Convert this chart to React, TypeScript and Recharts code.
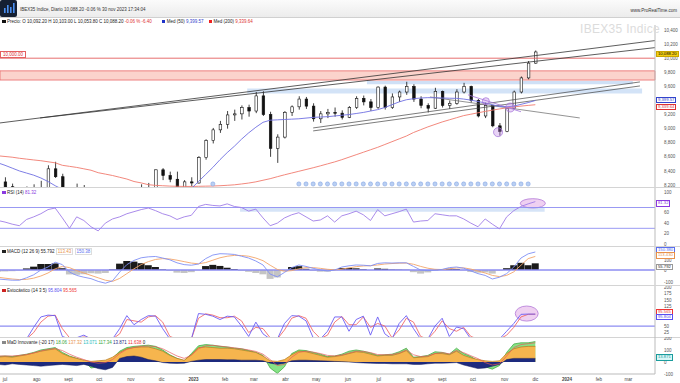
import React from 'react';
import {
  ComposedChart, Line, Bar, Area, Scatter, XAxis, YAxis, ReferenceLine, ReferenceArea, ReferenceDot, Cell,
} from 'recharts';

// weekly bars, week 0 = 24 jun 2022 ... week 75 = 1 dic 2023
const opens = [
  8050, 8244, 8176, 8108, 7996, 8088, 8156, 8142, 8430, 8318,
  8060, 7918, 8084, 7899, 7508, 7367, 7416, 7319, 7460, 7790,
  7956, 8149, 8160, 8416, 8335, 8282, 8122, 8245, 8229, 8589,
  8832, 8983, 9062, 9195, 9210, 9300, 9250, 9465, 9200, 8720,
  8880, 9232, 9310, 9420, 9320, 9140, 9210, 9230, 9220, 9160,
  9300, 9430, 9380, 9300, 9590, 9300, 9450, 9520, 9600, 9420,
  9330, 9290, 9530, 9330, 9360, 9520, 9600, 9400, 9180, 9330,
  9040, 8960, 9290, 9520, 9720, 9930,
];
const highs = [
  8290, 8310, 8220, 8160, 8180, 8210, 8260, 8480, 8530, 8360,
  8100, 8220, 8200, 7950, 7590, 7600, 7500, 7520, 7840, 8010,
  8210, 8230, 8420, 8440, 8390, 8390, 8270, 8310, 8610, 8850,
  9010, 9110, 9250, 9270, 9330, 9340, 9520, 9530, 9240, 8920,
  9250, 9330, 9460, 9450, 9360, 9250, 9280, 9300, 9260, 9320,
  9460, 9470, 9420, 9600, 9610, 9500, 9540, 9665, 9630, 9460,
  9360, 9580, 9540, 9400, 9560, 9650, 9610, 9420, 9370, 9340,
  9080, 9300, 9540, 9740, 9960, 10110,
];
const lows = [
  7990, 8060, 7920, 7860, 7950, 7990, 8040, 8130, 8300, 8040,
  7860, 7900, 7880, 7490, 7300, 7340, 7260, 7290, 7440, 7740,
  7900, 8070, 8150, 8270, 8240, 8090, 8100, 8180, 8220, 8560,
  8790, 8940, 9000, 9110, 9130, 9170, 9220, 9180, 8600, 8514,
  8860, 9180, 9270, 9280, 9100, 9080, 9150, 9170, 9130, 9150,
  9280, 9330, 9250, 9280, 9270, 9280, 9380, 9480, 9380, 9290,
  9230, 9280, 9300, 9280, 9340, 9500, 9370, 9160, 9150, 9020,
  8900, 8950, 9280, 9500, 9700, 9920,
];
const closes = [
  8244, 8176, 8108, 7996, 8088, 8156, 8142, 8430, 8318, 8060,
  7918, 8084, 7899, 7508, 7367, 7416, 7319, 7460, 7790, 7956,
  8149, 8160, 8416, 8335, 8282, 8122, 8245, 8229, 8589, 8832,
  8983, 9062, 9195, 9210, 9300, 9250, 9465, 9200, 8720, 8880,
  9232, 9310, 9420, 9320, 9140, 9210, 9230, 9220, 9160, 9300,
  9430, 9380, 9300, 9590, 9300, 9450, 9520, 9600, 9420, 9330,
  9290, 9530, 9330, 9360, 9520, 9600, 9400, 9180, 9330, 9040,
  8960, 9290, 9520, 9720, 9930, 10088.2,
];
const sma50 = [
  8515, 8480, 8440, 8400, 8370, 8340, 8300, 8250, 8190, 8140,
  8120, 8100, 8080, 8050, 8000, 7940, 7860, 7780, 7700, 7660,
  7650, 7680, 7740, 7810, 7900, 7980, 8060, 8150, 8250, 8350,
  8450, 8560, 8660, 8750, 8850, 8940, 9020, 9090, 9120, 9125,
  9130, 9135, 9140, 9150, 9160, 9165, 9170, 9180, 9190, 9200,
  9215, 9230, 9250, 9270, 9300, 9340, 9380, 9410, 9425, 9435,
  9440, 9438, 9435, 9432, 9430, 9420, 9405, 9385, 9365, 9340,
  9315, 9310, 9320, 9345, 9370, 9399.57,
];
const sma200 = [
  8615, 8605, 8595, 8580, 8568, 8556, 8545, 8530, 8515, 8480,
  8465, 8450, 8430, 8410, 8375, 8355, 8335, 8310, 8285, 8250,
  8230, 8205, 8195, 8190, 8185, 8182, 8180, 8180, 8182, 8184,
  8186, 8190, 8196, 8203, 8215, 8228, 8245, 8268, 8290, 8318,
  8345, 8370, 8395, 8420, 8445, 8472, 8500, 8528, 8560, 8595,
  8630, 8665, 8700, 8735, 8775, 8815, 8855, 8895, 8945, 8985,
  9025, 9060, 9095, 9125, 9155, 9185, 9205, 9225, 9245, 9262,
  9280, 9295, 9308, 9320, 9330, 9339.64,
];
const rsi = [
  45, 42, 38, 35, 47, 52, 58, 66, 69, 50,
  30, 52, 45, 33, 25, 40, 48, 52, 58, 62,
  66, 69, 64, 58, 54, 47, 52, 55, 72, 76,
  74, 73, 77, 72, 70, 63, 67, 50, 35, 40,
  50, 56, 60, 52, 44, 46, 54, 42, 54, 58,
  63, 56, 45, 66, 54, 58, 62, 67, 42, 44,
  45, 58, 56, 54, 54, 48, 40, 33, 48, 38,
  29, 52, 64, 72, 77, 81.32,
];
const macd = [
  -75, -80, -85, -85, -65, -40, 0, 25, 65, 45,
  -17, -45, -60, -72, -95, -110, -90, -17, 45, 80,
  102, 110, 113, 100, 85, 60, 45, 40, 50, 95,
  125, 136, 134, 130, 115, 100, 75, 42, -34, -57,
  -20, 20, 42, 30, 14, 0, -8, 0, 25, 35,
  42, 40, 35, 55, 60, 58, 60, 60, 30, 0,
  -5, 0, 5, 20, 25, 15, -8, -30, -45, -75,
  -60, -30, 25, 100, 135, 150.38,
];
const signal = [
  -60, -68, -75, -80, -78, -68, -50, -25, 10, 30,
  20, -5, -25, -45, -65, -85, -95, -70, -30, 10,
  45, 70, 88, 95, 92, 82, 70, 58, 52, 62,
  82, 102, 115, 122, 121, 115, 100, 78, 40, 5,
  -10, -5, 10, 20, 20, 14, 6, 2, 8, 18,
  28, 34, 36, 42, 50, 54, 57, 58, 48, 30,
  15, 6, 4, 10, 17, 18, 8, -8, -25, -45,
  -55, -45, -15, 40, 95, 113.43,
];
const hist = [
  -15, -12, -10, -5, 13, 28, 50, 50, 55, 15,
  -37, -40, -35, -27, -30, -25, 5, 53, 75, 70,
  57, 40, 25, 5, -7, -22, -25, -18, -2, 33,
  43, 34, 19, 8, -6, -15, -25, -36, -74, -62,
  -10, 25, 32, 10, -6, -14, -14, -2, 17, 17,
  14, 6, -1, 13, 10, 4, 3, 2, -18, -30,
  -20, -6, 1, 10, 8, -3, -16, -22, -20, -30,
  -5, 15, 40, 60, 40, 55.79,
];
const stochK = [
  0, 0, 0, 0, 0, 45, 85, 92, 90, 10,
  0, 5, 15, 0, 0, 0, 0, 40, 90, 55,
  75, 90, 88, 40, 0, 0, 0, 0, 98, 95,
  88, 75, 88, 85, 50, 10, 65, 20, 0, 0,
  60, 90, 88, 70, 5, 0, 30, 85, 85, 30,
  75, 88, 15, 85, 20, 0, 60, 90, 40, 0,
  0, 50, 80, 10, 46, 40, 0, 0, 0, 0,
  0, 30, 60, 95, 96, 95.8,
];
const stochD = [
  0, 0, 0, 0, 0, 25, 65, 88, 92, 40,
  5, 2, 8, 5, 0, 0, 0, 20, 75, 70,
  65, 85, 90, 65, 10, 0, 0, 0, 80, 97,
  92, 82, 82, 88, 70, 25, 45, 40, 5, 0,
  35, 80, 90, 80, 30, 2, 15, 65, 87, 55,
  55, 85, 45, 60, 50, 5, 35, 80, 65, 10,
  0, 30, 70, 40, 30, 45, 10, 0, 0, 0,
  0, 15, 45, 85, 95, 95.57,
];
const momGreen = [
  45, 50, 45, 55, 65, 80, 100, 110, 120, 80,
  50, 30, 10, -50, -40, -30, 30, 90, 120, 130,
  135, 140, 130, 100, 60, 30, 10, 70, 135, 145,
  140, 130, 125, 115, 110, 95, 80, 55, -50, -95,
  -40, 70, 100, 95, 80, 65, 45, 50, 65, 90,
  100, 90, 75, 55, 60, 65, 85, 115, 40, 45,
  55, 85, 80, 65, 115, 70, 45, 10, -40, -60,
  -30, 80, 150, 160, 160, 170,
];
const momOrange = [
  40, 45, 40, 50, 60, 75, 90, 100, 110, 70,
  45, 30, 15, 5, 10, 15, 40, 80, 110, 120,
  125, 125, 110, 90, 55, 30, 15, 60, 120, 125,
  120, 115, 115, 110, 100, 90, 80, 50, 10, 5,
  20, 60, 90, 85, 70, 55, 40, 45, 55, 70,
  85, 80, 65, 50, 55, 55, 70, 95, 35, 40,
  45, 70, 70, 60, 90, 55, 35, 20, 10, 5,
  10, 70, 110, 125, 130, 130,
];
const momNavy = [
  -20, -25, -15, -20, -25, -30, -35, -30, -25, -20,
  -25, -30, -20, -35, -55, -65, -45, 30, 45, 50,
  40, 20, 10, -5, -10, -12, -10, 5, 15, 20,
  20, 20, 18, 18, 15, 15, 15, 10, -10, -20,
  -10, 10, 15, 15, 12, 10, 8, 5, 3, 0,
  -5, -8, -10, -12, -12, -15, -15, -15, -20, -20,
  -15, -10, -10, -8, -5, -25, -40, -55, -50, -35,
  -20, 20, 30, 30, 30, 30,
];
const momRed = [
  50, 50, 50, 55, 62, 75, 92, 105, 112, 95,
  65, 40, 20, 0, -10, -5, 20, 70, 105, 122,
  130, 133, 128, 110, 80, 50, 30, 55, 110, 135,
  138, 132, 125, 118, 110, 100, 88, 65, 20, -30,
  -20, 40, 80, 90, 82, 70, 55, 50, 58, 75,
  90, 88, 78, 62, 60, 62, 75, 100, 60, 45,
  50, 70, 78, 68, 95, 78, 52, 28, -5, -25,
  -15, 50, 120, 145, 152, 160,
];
const markerWeeks = [30, 42, 43, 44, 45, 46, 47, 48, 49, 50, 51, 52, 53, 54, 55, 56, 57, 58,
  59, 60, 61, 62, 63, 64, 65, 66, 67, 68, 69, 70, 71, 72, 73, 74];

const monthTicks = [1, 5.43, 9.86, 14.14, 18.57, 22.86, 27.29, 31.71, 35.71, 40.14, 44.43,
  48.86, 53.14, 57.57, 62, 66.29, 70.71, 75, 79.43, 83.86, 88];
const monthLabels = ['jul', 'ago', 'sept', 'oct', 'nov', 'dic', '2023', 'feb', 'mar', 'abr', 'may',
  'jun', 'jul', 'ago', 'sept', 'oct', 'nov', 'dic', '2024', 'feb', 'mar'];

const priceTicks = [8200, 8400, 8600, 8800, 9000, 9200, 9600, 9800, 10000, 10200, 10400];

const FONT = '"Liberation Sans", Arial, sans-serif';
const X_DOMAIN: [number, number] = [0.3, 91.7];
const M = { top: 0, right: 0, bottom: 0, left: 0 };

const data = closes.map((c, i) => ({
  i, o: opens[i], h: highs[i], l: lows[i], c,
  sma50: sma50[i], sma200: sma200[i], rsi: rsi[i],
  macd: macd[i], signal: signal[i], hist: hist[i],
  k: stochK[i], d: stochD[i],
  g: momGreen[i], or: momOrange[i], nv: momNavy[i], rd: momRed[i],
}));
const markers = markerWeeks.map((i) => ({ i, mk: 8215 }));

const fmt = (v: number) => v.toLocaleString('en-US');

const axisTick = (f?: (v: number) => string, shift?: Record<number, number>) => (p: any) => (
  <text x={p.x + 1} y={p.y} dy={1.6 + ((shift && shift[p.payload.value]) || 0)} fontSize={4.5} fill="#555" fontFamily={FONT}>
    {f ? f(p.payload.value) : p.payload.value}
  </text>
);

const Candle = (p: any) => {
  const { x, y, width, height, payload } = p;
  if (x == null || !payload || isNaN(y)) return null;
  const top = Math.min(y, y + height);
  const bot = Math.max(y, y + height);
  const span = payload.h - payload.l || 1;
  const py = (v: number) => top + ((payload.h - v) / span) * (bot - top);
  const cx = x + width / 2;
  const up = payload.c >= payload.o;
  const bt = py(Math.max(payload.o, payload.c));
  const bb = py(Math.min(payload.o, payload.c));
  return (
    <g>
      <line x1={cx} x2={cx} y1={top} y2={bot} stroke="#111" strokeWidth={0.8} />
      <rect x={cx - 1.3} y={bt} width={2.6} height={Math.max(bb - bt, 0.8)}
        fill={up ? '#fff' : '#111'} stroke="#111" strokeWidth={0.6} />
    </g>
  );
};

const ellipse = (p: any) => (
  <ellipse cx={p.x + p.width / 2} cy={p.y + p.height / 2} rx={Math.abs(p.width) / 2} ry={Math.abs(p.height) / 2}
    fill="rgba(220,150,225,0.45)" stroke="#b27ad8" strokeWidth={0.8} />
);

const Box = ({ top, text, color, bg, border }: any) => (
  <div style={{
    position: 'absolute', left: 656, top, height: 4.5, lineHeight: '4.5px', padding: '0 1px',
    fontSize: 4.2, color, background: bg || '#fff', border: `0.5px solid ${border || color}`, fontFamily: FONT,
  }}>{text}</div>
);

const Label = ({ top, children }: any) => (
  <div style={{ position: 'absolute', left: 2, top, fontSize: 4.5, lineHeight: '5px', color: '#222', fontFamily: FONT, whiteSpace: 'nowrap' }}>
    {children}
  </div>
);

const Sq = ({ c }: { c: string }) => (
  <span style={{ display: 'inline-block', width: 3.5, height: 3.5, background: c, marginRight: 1.5 }} />
);

const Sep = ({ top }: { top: number }) => (
  <div style={{ position: 'absolute', left: 0, top, width: 680, height: 1, background: '#d4d4d4' }} />
);

export default function App() {
  return (
    <div style={{ position: 'relative', width: 680, height: 383, background: '#fff', overflow: 'hidden', fontFamily: FONT }}>
      <style>{'body{margin:0}'}</style>

      {/* header */}
      <div style={{ position: 'absolute', left: 0, top: 0, width: 680, height: 17, background: 'linear-gradient(#fbfbfb,#ececec)', borderBottom: '1px solid #d0d0d0' }}>
        <svg width={17} height={17} style={{ position: 'absolute', left: 0, top: 0 }}>
          <rect width={17} height={17} rx={2} fill="#152033" />
          <rect x={4} y={8} width={1.6} height={5} fill="#4a8ff0" />
          <rect x={7} y={5} width={1.6} height={8} fill="#4a8ff0" />
          <rect x={10} y={7} width={1.6} height={6} fill="#4a8ff0" />
          <rect x={13} y={3} width={1.6} height={10} fill="#4a8ff0" />
        </svg>
        <div style={{ position: 'absolute', left: 20, top: 7, fontSize: 4.5, color: '#333' }}>
          IBEX35 Indice, Diario 10,088.20 -0.06 % 30 nov 2023 17:34:04
        </div>
        <div style={{ position: 'absolute', right: 3, top: 8, fontSize: 4.5, color: '#333' }}>www.ProRealTime.com</div>
      </div>

      <Label top={19}>
        <Sq c="#111" />Precio: O 10,092.20 H 10,103.00 L 10,053.80 C 10,088.20{' '}
        <span style={{ color: '#d33' }}>-0.06 % -6.40</span>
        <span style={{ marginLeft: 10 }}><Sq c="#1f33c8" />Med (50) <span style={{ color: '#3344cc' }}>9,399.57</span></span>
        <span style={{ marginLeft: 5 }}><Sq c="#e22" />Med (200) <span style={{ color: '#d33' }}>9,339.64</span></span>
      </Label>

      {/* price panel */}
      <div style={{ position: 'absolute', left: 0, top: 25 }}>
        <ComposedChart width={680} height={162} data={data} margin={M}>
          <XAxis type="number" dataKey="i" domain={X_DOMAIN} allowDataOverflow hide />
          <YAxis orientation="right" width={25} domain={[8172, 10471]} allowDataOverflow ticks={priceTicks} interval={0}
            tick={axisTick(fmt)} tickLine={false} axisLine={{ stroke: '#bbb' }} />
          <ReferenceArea y1={9690} y2={9820} fill="#fbd3cc" fillOpacity={1} stroke="#e86a6a" strokeWidth={0.8} />
          <ReferenceArea x1={51.5} x2={88.6} y1={9630} y2={9677} fill="#cfe0f6" fillOpacity={1} />
          <ReferenceArea x1={34.8} x2={89.9} y1={9500} y2={9570} fill="#d3e3f7" fillOpacity={1} />
          <ReferenceLine y={10000} stroke="#e46060" strokeWidth={0.9} />
          <ReferenceLine segment={[{ x: 0.3, y: 9081 }, { x: 91.7, y: 10250 }]} stroke="#333" strokeWidth={0.8} ifOverflow="hidden" />
          <ReferenceLine segment={[{ x: 5.9, y: 9152 }, { x: 91.7, y: 10150 }]} stroke="#333" strokeWidth={0.8} ifOverflow="hidden" />
          <ReferenceLine segment={[{ x: 44, y: 9010 }, { x: 89.6, y: 9663 }]} stroke="#444" strokeWidth={0.7} ifOverflow="hidden" />
          <ReferenceLine segment={[{ x: 44, y: 8968 }, { x: 89.6, y: 9606 }]} stroke="#444" strokeWidth={0.7} ifOverflow="hidden" />
          <ReferenceLine segment={[{ x: 60.3, y: 9450 }, { x: 81.2, y: 9152 }]} stroke="#666" strokeWidth={0.7} ifOverflow="hidden" />
          <ReferenceLine segment={[{ x: 65.6, y: 9480 }, { x: 73, y: 9240 }]} stroke="#a070d8" strokeWidth={0.8} ifOverflow="hidden" />
          <Line dataKey="sma200" stroke="#f07a6e" strokeWidth={0.9} dot={false} isAnimationActive={false} />
          <Line dataKey="sma50" stroke="#6f6fe2" strokeWidth={0.9} dot={false} isAnimationActive={false} />
          <Bar dataKey={(d: any) => [d.l, d.h]} barSize={4} shape={Candle} isAnimationActive={false} />
          <Scatter data={markers} dataKey="mk" fill="#b9cff2" stroke="#7d9fe2" strokeWidth={0.5}
            shape={(p: any) => <circle cx={p.cx} cy={p.cy} r={2.1} fill="#b9cff2" stroke="#7d9fe2" strokeWidth={0.5} />}
            isAnimationActive={false} />
          <ReferenceDot x={68.1} y={9390} r={3.5} fill="rgba(190,130,230,0.35)" stroke="#a070d8" strokeWidth={0.7} />
          <ReferenceDot x={69.8} y={8950} r={4.5} fill="rgba(190,130,230,0.35)" stroke="#a070d8" strokeWidth={0.7} />
          <ReferenceDot x={71.5} y={9300} r={4.5} fill="rgba(190,130,230,0.35)" stroke="#a070d8" strokeWidth={0.7} />
        </ComposedChart>
      </div>
      <div style={{ position: 'absolute', left: 580, top: 22, fontSize: 12, color: '#dcdcdc', letterSpacing: 0.3 }}>IBEX35 Indice</div>
      <div style={{ position: 'absolute', left: 0, top: 51, fontSize: 4.5, lineHeight: '5px', color: '#d33', border: '0.5px solid #e46060', background: '#fff', padding: '0 2px' }}>10,000.00</div>
      <Box top={50.5} text="10,088.20" color="#000" bg="#f4cf14" border="#c9a400" />
      <Box top={96.5} text="9,399.57" color="#3344cc" />
      <Box top={103.5} text="9,339.64" color="#d33" />
      <Sep top={187} />

      {/* RSI */}
      <div style={{ position: 'absolute', left: 0, top: 188 }}>
        <ComposedChart width={680} height={58} data={data} margin={M}>
          <XAxis type="number" dataKey="i" domain={X_DOMAIN} allowDataOverflow hide />
          <YAxis orientation="right" width={25} domain={[-4, 107.5]} allowDataOverflow ticks={[0, 20, 40, 60, 100]} interval={0}
            tick={axisTick()} tickLine={false} axisLine={{ stroke: '#bbb' }} />
          <ReferenceArea x1={33.8} x2={76.3} y1={62} y2={70} fill="#d6e4f7" fillOpacity={1} />
          <ReferenceLine y={70} stroke="#8d8df2" strokeWidth={0.9} />
          <ReferenceLine y={30} stroke="#8d8df2" strokeWidth={0.9} />
          <Line dataKey="rsi" stroke="#a07ee8" strokeWidth={0.9} dot={false} isAnimationActive={false} />
          <ReferenceArea x1={72.9} x2={76.4} y1={69} y2={87} shape={ellipse} />
        </ComposedChart>
      </div>
      <Label top={190}><Sq c="#8a3ae0" />RSI (14) <span style={{ color: '#8a3ae0' }}>81.32</span></Label>
      <Box top={200} text="81.32" color="#8a3ae0" />
      <Sep top={246} />

      {/* MACD */}
      <div style={{ position: 'absolute', left: 0, top: 247 }}>
        <ComposedChart width={680} height={38} data={data} margin={M}>
          <XAxis type="number" dataKey="i" domain={X_DOMAIN} allowDataOverflow hide />
          <YAxis orientation="right" width={25} domain={[-125, 192]} allowDataOverflow ticks={[-100, 0, 100]} interval={0}
            tick={axisTick(undefined, { 100: 2.2 })} tickLine={false} axisLine={{ stroke: '#bbb' }} />
          <Bar dataKey="hist" barSize={7} isAnimationActive={false}>
            {data.map((d) => <Cell key={d.i} fill={d.hist >= 0 ? '#1a1a1a' : '#c4c4c4'} />)}
          </Bar>
          <ReferenceLine y={0} stroke="#8d8df2" strokeWidth={1.3} />
          <Line dataKey="signal" stroke="#f3a56a" strokeWidth={0.9} dot={false} isAnimationActive={false} />
          <Line dataKey="macd" stroke="#7f8ff5" strokeWidth={0.9} dot={false} isAnimationActive={false} />
        </ComposedChart>
      </div>
      <Label top={249}>
        <Sq c="#222" />MACD (12 26 9) 55.792{' '}
        <span style={{ color: '#e8904a', border: '0.5px solid #ddd', padding: '0 1px' }}>113.43</span>{' '}
        <span style={{ color: '#5a6ef0', border: '0.5px solid #ddd', padding: '0 1px' }}>150.38</span>
      </Label>
      <Box top={247} text="150.380" color="#5a6ef0" />
      <Box top={252} text="113.430" color="#e8904a" />
      <Box top={263.5} text="55.792" color="#222" border="#999" />
      <Sep top={285} />

      {/* Stochastic */}
      <div style={{ position: 'absolute', left: 0, top: 286 }}>
        <ComposedChart width={680} height={52} data={data} margin={M}>
          <XAxis type="number" dataKey="i" domain={X_DOMAIN} allowDataOverflow hide />
          <YAxis orientation="right" width={25} domain={[4, 204]} allowDataOverflow ticks={[25, 50, 125, 150, 175, 200]} interval={0}
            tick={axisTick()} tickLine={false} axisLine={{ stroke: '#bbb' }} />
          <ReferenceLine y={50} stroke="#8d8df2" strokeWidth={1.3} />
          <Line dataKey="d" stroke="#f26a6a" strokeWidth={0.9} dot={false} isAnimationActive={false} />
          <Line dataKey="k" stroke="#6b5cf5" strokeWidth={0.9} dot={false} isAnimationActive={false} />
          <ReferenceArea x1={72.2} x2={75.4} y1={69} y2={127} shape={ellipse} />
        </ComposedChart>
      </div>
      <Label top={288}>
        <Sq c="#c22" />Estocástico (14 3 5) <span style={{ color: '#5a4ef0' }}>95.804</span>{' '}
        <span style={{ color: '#e33' }}>95.565</span>
      </Label>
      <Box top={308.5} text="95.565" color="#e33" />
      <Box top={313.5} text="95.804" color="#5a4ef0" />
      <Sep top={337} />

      {/* momentum */}
      <div style={{ position: 'absolute', left: 0, top: 337 }}>
        <ComposedChart width={680} height={46} data={data} margin={M}>
          <XAxis type="number" dataKey="i" domain={X_DOMAIN} allowDataOverflow ticks={monthTicks} height={9}
            tickLine={false} tickSize={0} axisLine={{ stroke: '#bbb' }} interval={0}
            tick={(p: any) => {
              const k = monthTicks.indexOf(p.payload.value);
              const lab = monthLabels[k];
              const yr = lab === '2023' || lab === '2024';
              return (
                <text x={p.x} y={p.y} dy={4.5} textAnchor="middle" fontSize={4.5} fill="#444" fontWeight={yr ? 700 : 400} fontFamily={FONT}>
                  {lab}
                </text>
              );
            }} />
          <YAxis orientation="right" width={25} domain={[-100, 208]} allowDataOverflow ticks={[-100, 0, 100, 200]} interval={0}
            tick={axisTick()} tickLine={false} axisLine={{ stroke: '#bbb' }} />
          <Area dataKey="g" baseValue={0} fill="#86e286" fillOpacity={1} stroke="#3aa53a" strokeWidth={0.7} dot={false} isAnimationActive={false} />
          <Area dataKey="or" baseValue={0} fill="#f6b54e" fillOpacity={1} stroke="#b57a20" strokeWidth={0.7} dot={false} isAnimationActive={false} />
          <Area dataKey="nv" baseValue={0} fill="#1d2a7e" fillOpacity={1} stroke="#121a5a" strokeWidth={0.5} dot={false} isAnimationActive={false} />
          <Line dataKey="rd" stroke="#e85a5a" strokeWidth={0.7} dot={false} isAnimationActive={false} />
        </ComposedChart>
      </div>
      <Label top={340}>
        <Sq c="#888" />MaD Innovante (-20 17) <span style={{ color: '#3aa53a' }}>18.06</span>{' '}
        <span style={{ color: '#e8904a' }}>137.32</span> <span style={{ color: '#2bb' }}>13.071</span>{' '}
        <span style={{ color: '#3aa53a' }}>117.34</span> <span style={{ color: '#1d2a7e' }}>13.871</span>{' '}
        <span style={{ color: '#e33' }}>11.638</span> 0
      </Label>
      <Box top={354} text="13.871" color="#1a9c9c" bg="#d8f6f6" />
    </div>
  );
}
